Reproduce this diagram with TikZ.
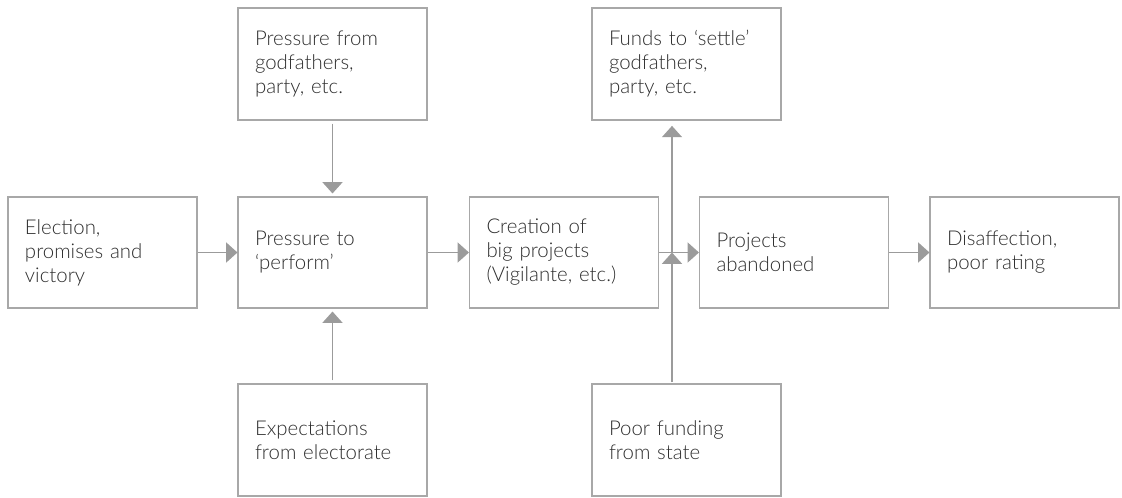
\documentclass[tikz,border=0pt]{standalone}
\usepackage{fontspec}
\setmainfont{Lato Light}
\usetikzlibrary{arrows.meta}
\definecolor{boxline}{HTML}{A8A8A8}
\definecolor{arrowcol}{HTML}{9B9B9B}
\definecolor{txt}{HTML}{2E2E2E}
\begin{document}
\begin{tikzpicture}[x=0.75pt,y=-0.75pt,
  box/.style={draw=boxline, line width=0.8pt, rectangle,
    minimum width=141.75pt, minimum height=83.25pt,
    inner xsep=12.75pt, text width=116.25pt, align=left,
    font=\fontsize{15.3}{18}\selectfont, text=txt},
  tallbox/.style={box, minimum height=84pt},
  flow/.style={draw=arrowcol, line width=1.1pt,
    -{Triangle[width=15pt,length=8.5pt]}},
  gap/.style={shorten <=2.25pt, shorten >=2.25pt}]
\useasboundingbox (0,0) rectangle (1122,497);

% main row
\node[box] (elect)  at (102.5,252.5) {Election,\\promises and\\victory};
\node[box] (press)  at (332.5,252.5) {Pressure to\\‘perform’};
\node[box] (create) at (564,252.5)   {Creation of\\big projects\\(Vigilante, etc.)};
\node[box] (aband)  at (794,252.5)   {Projects\\abandoned};
\node[box] (disaff) at (1024.5,252.5){Disaffection,\\poor rating};

% upper and lower boxes
\node[tallbox] (godf)   at (332.5,64)  {Pressure from\\godfathers,\\party, etc.};
\node[tallbox] (expect) at (332.5,440) {Expectations\\from electorate};
\node[tallbox] (funds)  at (686.5,64)  {Funds to ‘settle’\\godfathers,\\party, etc.};
\node[tallbox] (poor)   at (686.5,440) {Poor funding\\from state};

% main flow
\draw[flow] (elect) -- (press);
\draw[flow] (press) -- (create);
\draw[flow] (create) -- (aband);
\draw[flow] (aband) -- (disaff);

% pressures on performance
\draw[flow, gap] (godf) -- (press);
\draw[flow, gap] (expect) -- (press);

% funding branch
\coordinate (junc) at (672,252.5);
\draw[flow, shorten <=1pt] (poor.north -| junc) -- (junc);
\draw[flow, shorten >=4pt] (junc) -- (funds.south -| junc);
\end{tikzpicture}
\end{document}
